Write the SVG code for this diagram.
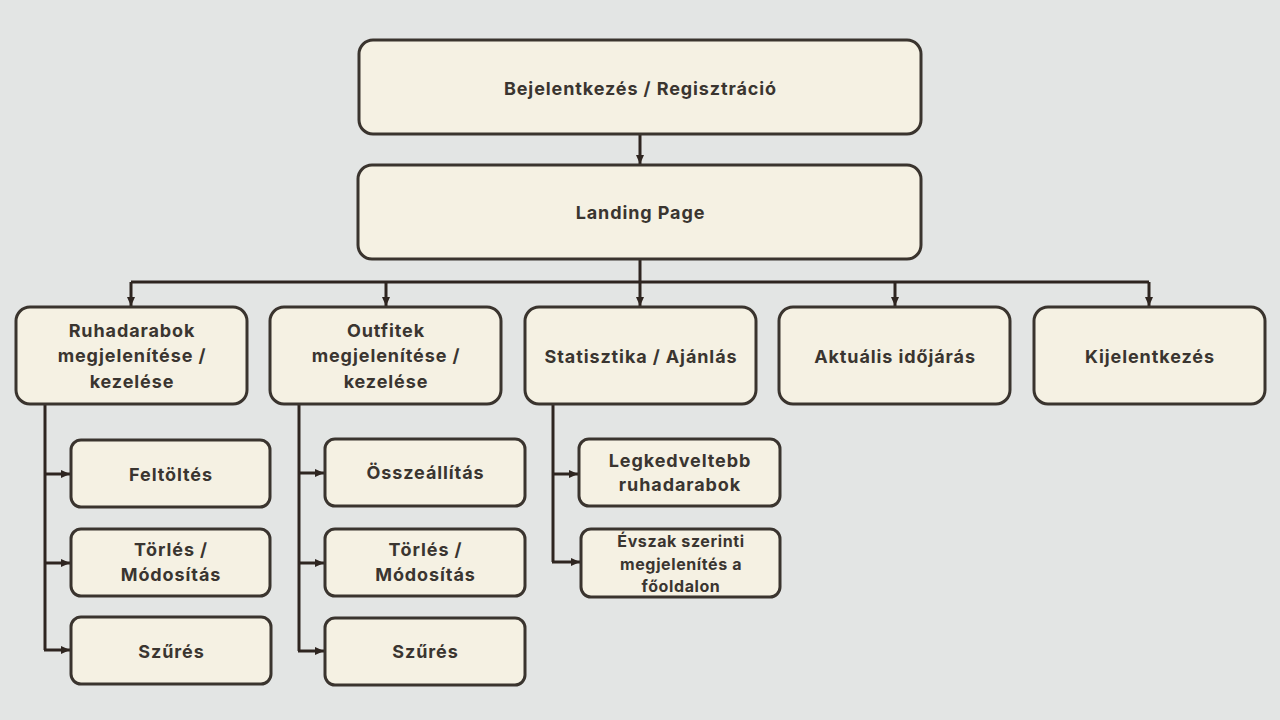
<svg xmlns="http://www.w3.org/2000/svg" width="1280" height="720" viewBox="0 0 1280 720">
<defs>
<marker id="arr" markerUnits="userSpaceOnUse" markerWidth="10" markerHeight="10" refX="9" refY="5" orient="auto">
<path d="M0,1 L9,5 L0,9 Z" fill="#2e2520"/>
</marker>
<style>
.box{fill:#f5f1e3;stroke:#3a342e;stroke-width:3}
.t{font-family:Inter,"Liberation Sans",sans-serif;font-weight:700;font-size:18px;letter-spacing:0.9px;fill:#3a3530;text-anchor:middle}
.s{font-size:16px;letter-spacing:0.6px}
.c{fill:none;stroke:#2e2520;stroke-width:3}
</style>
</defs>
<rect width="1280" height="720" fill="#e3e5e4"/>
<g id="connectors">
<path class="c" d="M640,134 V164" marker-end="url(#arr)"/>
<path class="c" d="M640,259 V282"/>
<path class="c" d="M131,282 H1149"/>
<path class="c" d="M131,282 V306" marker-end="url(#arr)"/>
<path class="c" d="M386,282 V306" marker-end="url(#arr)"/>
<path class="c" d="M640,282 V306" marker-end="url(#arr)"/>
<path class="c" d="M895,282 V306" marker-end="url(#arr)"/>
<path class="c" d="M1149,282 V306" marker-end="url(#arr)"/>
<path class="c" d="M45,404 V650"/>
<path class="c" d="M44,474 H70" marker-end="url(#arr)"/>
<path class="c" d="M44,563 H70" marker-end="url(#arr)"/>
<path class="c" d="M44,650 H70" marker-end="url(#arr)"/>
<path class="c" d="M299,404 V651"/>
<path class="c" d="M298,473 H324" marker-end="url(#arr)"/>
<path class="c" d="M298,563 H324" marker-end="url(#arr)"/>
<path class="c" d="M298,651 H324" marker-end="url(#arr)"/>
<path class="c" d="M553,404 V562"/>
<path class="c" d="M552,474 H578" marker-end="url(#arr)"/>
<path class="c" d="M552,562 H580" marker-end="url(#arr)"/>
</g>
<g id="n-login"><rect class="box" x="359" y="40" width="562" height="94" rx="14"/><text class="t" x="640.5" y="95">Bejelentkezés / Regisztráció</text></g>
<g id="n-landing"><rect class="box" x="358" y="165" width="563" height="94" rx="14"/><text class="t" x="640.5" y="219">Landing Page</text></g>
<g id="n-ruha"><rect class="box" x="16" y="307" width="231" height="97" rx="14"/><text class="t" x="132" y="337">Ruhadarabok</text><text class="t" x="132" y="362">megjelenítése /</text><text class="t" x="132" y="388">kezelése</text></g>
<g id="n-outfit"><rect class="box" x="270" y="307" width="231" height="97" rx="14"/><text class="t" x="386" y="337">Outfitek</text><text class="t" x="386" y="362">megjelenítése /</text><text class="t" x="386" y="388">kezelése</text></g>
<g id="n-stat"><rect class="box" x="525" y="307" width="231" height="97" rx="14"/><text class="t" x="641" y="363">Statisztika / Ajánlás</text></g>
<g id="n-weather"><rect class="box" x="779" y="307" width="231" height="97" rx="14"/><text class="t" x="895" y="363">Aktuális időjárás</text></g>
<g id="n-logout"><rect class="box" x="1034" y="307" width="231" height="97" rx="14"/><text class="t" x="1150" y="363">Kijelentkezés</text></g>
<g id="n-r1"><rect class="box" x="71" y="440" width="199" height="67" rx="10"/><text class="t" x="171" y="481">Feltöltés</text></g>
<g id="n-r2"><rect class="box" x="71" y="529" width="199" height="67" rx="10"/><text class="t" x="171" y="556">Törlés /</text><text class="t" x="171" y="581">Módosítás</text></g>
<g id="n-r3"><rect class="box" x="71" y="617" width="200" height="67" rx="10"/><text class="t" x="171.5" y="658">Szűrés</text></g>
<g id="n-o1"><rect class="box" x="325" y="439" width="200" height="67" rx="10"/><text class="t" x="425.5" y="479">Összeállítás</text></g>
<g id="n-o2"><rect class="box" x="325" y="529" width="200" height="67" rx="10"/><text class="t" x="425.5" y="556">Törlés /</text><text class="t" x="425.5" y="581">Módosítás</text></g>
<g id="n-o3"><rect class="box" x="325" y="618" width="200" height="67" rx="10"/><text class="t" x="425.5" y="658">Szűrés</text></g>
<g id="n-s1"><rect class="box" x="579" y="439" width="201" height="67" rx="10"/><text class="t" x="680" y="467">Legkedveltebb</text><text class="t" x="680" y="491">ruhadarabok</text></g>
<g id="n-s2"><rect class="box" x="581" y="529" width="199" height="68" rx="10"/><text class="t s" x="681" y="547">Évszak szerinti</text><text class="t s" x="681" y="570">megjelenítés a</text><text class="t s" x="681" y="592">főoldalon</text></g>
</svg>
